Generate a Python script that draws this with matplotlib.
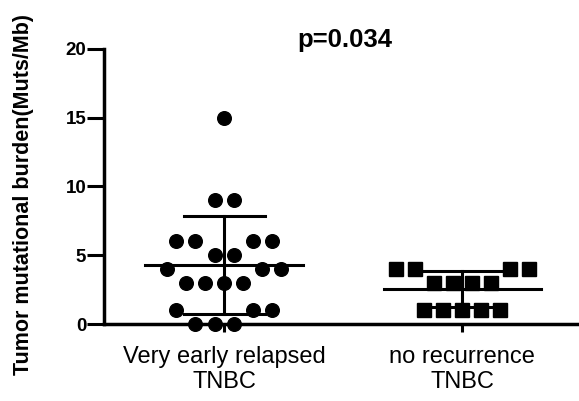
import matplotlib.pyplot as plt
import numpy as np

plt.rcParams['font.family'] = ['Liberation Sans', 'DejaVu Sans']

groups = ['Very early relapsed\nTNBC', 'no recurrence\nTNBC']
# TMB values per patient
relapsed = [15, 9, 9, 6, 6, 6, 6, 5, 5, 4, 4, 4, 3, 3, 3, 3, 1, 1, 1, 0, 0, 0]
no_recur = [4, 4, 4, 4, 3, 3, 3, 3, 1, 1, 1, 1, 1]
p_text = 'p=0.034'

# horizontal slot of each point (scatter layout, in marker widths)
slots1 = [0, -0.5, 0.5, -2.5, -1.5, 1.5, 2.5, -0.5, 0.5, -3, 2, 3,
          -2, -1, 0, 1, -2.5, 1.5, 2.5, -1.5, -0.5, 0.5]
slots2 = [-3.5, -2.5, 2.5, 3.5, -1.5, -0.5, 0.5, 1.5, -2, -1, 0, 1, 2]
step = 0.08

fig = plt.figure(figsize=(5.79, 4.01), dpi=100)
ax = fig.add_axes([0.18, 0.192, 0.82, 0.686])

for i, (vals, slots, mk) in enumerate([(relapsed, slots1, 'o'), (no_recur, slots2, 's')]):
    xc = i + 1
    xs = xc + np.array(slots) * step
    ax.plot(xs, vals, mk, color='black', markersize=9.8, clip_on=False, zorder=3)
    m = np.mean(vals)
    sd = np.std(vals, ddof=1)
    ax.plot([xc - 0.33, xc + 0.33], [m, m], color='black', lw=2.2, zorder=2)
    ax.plot([xc, xc], [m - sd, m + sd], color='black', lw=2.2, zorder=2)
    for yy in (m - sd, m + sd):
        ax.plot([xc - 0.17, xc + 0.17], [yy, yy], color='black', lw=2.2, zorder=2)

ax.set_xlim(0.497, 2.49)
ax.set_ylim(0, 20)
ax.set_yticks([0, 5, 10, 15, 20])
ax.set_xticks([1, 2])
ax.set_xticklabels(groups, fontsize=17, linespacing=1.15)
for lab in ax.get_yticklabels():
    lab.set_fontweight('bold')
    lab.set_fontsize(13.5)
ax.tick_params(axis='y', width=2.2, length=12, pad=1)
ax.tick_params(axis='x', width=2.2, length=6, pad=10)
for s in ['top', 'right']:
    ax.spines[s].set_visible(False)
for s in ['left', 'bottom']:
    ax.spines[s].set_linewidth(2.5)
ax.set_ylabel('Tumor mutational burden(Muts/Mb)', fontsize=15.5, fontweight='bold')
ax.yaxis.set_label_coords(-0.148, 0.47)
fig.text(0.596, 0.9, p_text, fontsize=18.5, fontweight='bold', ha='center', va='center')

fig.savefig('out.png', dpi=100)
